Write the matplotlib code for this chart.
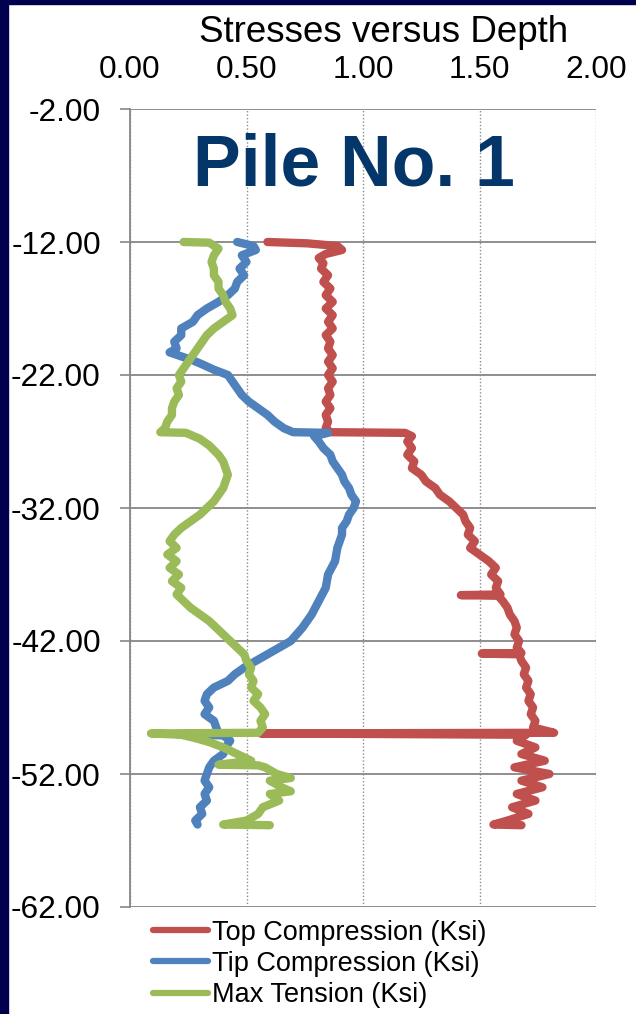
import matplotlib.pyplot as plt
from matplotlib.patches import Rectangle

plt.rcParams['font.family'] = ['Liberation Sans', 'DejaVu Sans']

# Depth (ft) and stress (ksi)
top_depth = [-12.0, -12.1, -12.3, -12.6, -12.9, -13.2, -13.6, -14.0, -14.5, -15.0, -15.5, -16.0, -16.5, -17.0,
             -17.5, -18.0, -18.5, -19.0, -19.5, -20.0, -20.5, -21.0, -21.5, -22.0, -22.5, -23.0, -23.5, -24.0,
             -24.5, -25.0, -25.5, -26.0, -26.3, -26.35, -26.6, -27.0, -27.5, -28.0, -28.5, -29.0, -29.5, -30.0,
             -30.5, -31.0, -31.5, -32.0, -32.5, -33.0, -33.5, -34.0, -34.5, -35.0, -35.5, -36.0, -36.5, -37.0,
             -37.5, -38.0, -38.5, -38.55, -38.6, -39.0, -39.5, -40.0, -40.5, -41.0, -41.5, -42.0, -42.5, -42.9,
             -42.95, -43.0, -43.5, -44.0, -44.5, -45.0, -45.5, -46.0, -46.5, -47.0, -47.5, -48.0, -48.5, -48.9,
             -48.95, -49.05, -49.5, -50.0, -50.5, -51.0, -51.5, -52.0, -52.5, -53.0, -53.5, -54.0, -54.5, -55.0,
             -55.5, -55.8, -55.85]
top_comp = [0.59, 0.76, 0.89, 0.91, 0.84, 0.81, 0.83, 0.82, 0.85, 0.83, 0.86, 0.84, 0.87, 0.84,
            0.87, 0.85, 0.87, 0.84, 0.86, 0.85, 0.87, 0.85, 0.87, 0.85, 0.87, 0.85, 0.86, 0.84,
            0.86, 0.84, 0.85, 0.84, 0.86, 1.18, 1.21, 1.19, 1.21, 1.19, 1.22, 1.21, 1.25, 1.27,
            1.31, 1.33, 1.37, 1.40, 1.43, 1.44, 1.46, 1.45, 1.48, 1.46, 1.50, 1.54, 1.57, 1.55,
            1.58, 1.57, 1.59, 1.42, 1.58, 1.60, 1.62, 1.63, 1.65, 1.66, 1.65, 1.67, 1.66, 1.68,
            1.51, 1.67, 1.68, 1.70, 1.69, 1.71, 1.70, 1.72, 1.71, 1.73, 1.72, 1.74, 1.73, 1.82,
            0.56, 1.70, 1.66, 1.74, 1.68, 1.78, 1.65, 1.80, 1.68, 1.77, 1.66, 1.74, 1.64, 1.71,
            1.62, 1.56, 1.68]

tip_depth = [-12.0, -12.3, -12.6, -13.0, -13.5, -14.0, -14.5, -15.0, -15.5, -16.0, -16.5, -17.0, -17.5, -18.0,
             -18.5, -19.0, -19.5, -20.0, -20.3, -20.6, -20.9, -21.2, -21.6, -22.0, -22.5, -23.0, -23.5, -24.0,
             -24.5, -25.0, -25.5, -26.0, -26.3, -26.35, -26.6, -27.0, -27.5, -28.0, -28.5, -29.0, -29.5, -30.0,
             -30.5, -31.0, -31.5, -32.0, -32.5, -33.0, -33.5, -34.0, -35.0, -36.0, -37.0, -38.0, -39.0, -40.0,
             -41.0, -42.0, -42.5, -43.0, -43.5, -44.0, -44.5, -45.0, -45.5, -46.0, -46.5, -47.0, -47.5, -48.0,
             -48.5, -48.95, -49.0, -49.1, -49.5, -50.0, -50.5, -51.0, -51.5, -52.0, -52.5, -53.0, -53.5, -54.0,
             -54.5, -55.0, -55.5, -55.8]
tip_comp = [0.46, 0.53, 0.54, 0.48, 0.50, 0.47, 0.49, 0.46, 0.45, 0.42, 0.38, 0.33, 0.29, 0.27,
            0.22, 0.22, 0.19, 0.20, 0.17, 0.22, 0.27, 0.31, 0.36, 0.42, 0.44, 0.46, 0.48, 0.51,
            0.55, 0.59, 0.62, 0.66, 0.70, 0.85, 0.79, 0.81, 0.83, 0.86, 0.87, 0.89, 0.91, 0.92,
            0.94, 0.95, 0.97, 0.96, 0.94, 0.93, 0.91, 0.91, 0.89, 0.88, 0.85, 0.84, 0.81, 0.78,
            0.74, 0.69, 0.64, 0.59, 0.54, 0.49, 0.45, 0.42, 0.36, 0.33, 0.32, 0.34, 0.32, 0.36,
            0.37, 0.38, 0.20, 0.40, 0.43, 0.41, 0.40, 0.36, 0.34, 0.33, 0.32, 0.34, 0.32, 0.33,
            0.30, 0.31, 0.28, 0.29]

ten_depth = [-12.0, -12.05, -12.5, -13.0, -13.5, -14.0, -14.5, -15.0, -15.5, -16.0, -16.5, -17.0, -17.5, -18.0,
             -18.5, -19.0, -19.5, -20.0, -20.5, -21.0, -21.5, -22.0, -22.5, -23.0, -23.5, -24.0, -24.5, -25.0,
             -25.5, -26.0, -26.3, -26.35, -26.8, -27.3, -28.0, -28.5, -29.0, -29.5, -30.0, -30.5, -31.0, -31.5,
             -32.0, -32.5, -33.0, -33.5, -34.0, -34.5, -35.0, -35.5, -36.0, -36.5, -37.0, -37.5, -38.0, -38.5,
             -39.0, -39.5, -40.0, -40.5, -41.0, -41.5, -42.0, -42.5, -43.0, -43.5, -44.0, -44.5, -45.0, -45.5,
             -46.0, -46.5, -47.0, -47.5, -48.0, -48.5, -48.9, -48.95, -49.05, -49.3, -49.6, -50.0, -50.5, -51.0,
             -51.3, -51.35, -51.5, -52.0, -52.3, -52.5, -53.0, -53.3, -53.5, -54.0, -54.5, -55.0, -55.5, -55.8,
             -55.85]
max_tension = [0.23, 0.34, 0.38, 0.36, 0.35, 0.36, 0.36, 0.38, 0.38, 0.40, 0.41, 0.43, 0.44, 0.40,
               0.36, 0.33, 0.31, 0.29, 0.27, 0.25, 0.23, 0.21, 0.22, 0.20, 0.21, 0.19, 0.18, 0.18,
               0.16, 0.15, 0.13, 0.24, 0.30, 0.34, 0.38, 0.40, 0.41, 0.42, 0.41, 0.40, 0.38, 0.36,
               0.33, 0.30, 0.26, 0.22, 0.19, 0.17, 0.20, 0.16, 0.20, 0.17, 0.21, 0.18, 0.22, 0.20,
               0.23, 0.26, 0.30, 0.34, 0.37, 0.40, 0.43, 0.46, 0.49, 0.50, 0.52, 0.51, 0.53, 0.52,
               0.55, 0.53, 0.56, 0.58, 0.56, 0.57, 0.55, 0.09, 0.22, 0.28, 0.34, 0.40, 0.46, 0.52,
               0.38, 0.55, 0.58, 0.63, 0.69, 0.60, 0.65, 0.69, 0.60, 0.64, 0.57, 0.55, 0.50, 0.40,
               0.60]

series_names = ['Top Compression (Ksi)', 'Tip Compression (Ksi)', 'Max Tension (Ksi)']
colors = ['#C0504D', '#4F81BD', '#9BBB59']

x_ticks = [0.0, 0.5, 1.0, 1.5, 2.0]
y_ticks = [-62, -52, -42, -32, -22, -12, -2]

fig = plt.figure(figsize=(6.36, 10.14), dpi=100)
fig.patch.set_facecolor('white')
# dark frame on the left and top edges
fig.patches.append(Rectangle((0, 0), 8 / 636, 1, transform=fig.transFigure, color='#00004F', zorder=0))
fig.patches.append(Rectangle((0, 1 - 4 / 1014), 1, 4 / 1014, transform=fig.transFigure, color='#00004F', zorder=0))

ax = fig.add_axes([130 / 636, 1 - 907 / 1014, 466 / 636, 798 / 1014])

ax.plot(top_comp, top_depth, color=colors[0], lw=6, solid_capstyle='round', solid_joinstyle='round',
        label=series_names[0], zorder=3)
ax.plot(tip_comp, tip_depth, color=colors[1], lw=6, solid_capstyle='round', solid_joinstyle='round',
        label=series_names[1], zorder=3)
ax.plot(max_tension, ten_depth, color=colors[2], lw=6, solid_capstyle='round', solid_joinstyle='round',
        label=series_names[2], zorder=4)

ax.set_xlim(0, 2)
ax.set_ylim(-62, -2)
ax.set_xticks(x_ticks)
ax.set_yticks(y_ticks)
ax.set_xticklabels(['%.2f' % v for v in x_ticks])
ax.set_yticklabels(['%.2f' % v for v in y_ticks])

ax.xaxis.tick_top()
ax.tick_params(axis='x', length=0, pad=17, labelsize=22.8)
ax.tick_params(axis='y', length=7, width=1.2, color='#868686', pad=14, labelsize=22.8)

ax.grid(axis='y', color='#868686', lw=1.3, zorder=1)
ax.grid(axis='x', color='#8C8C8C', lw=1.0, ls=(0, (1, 1.5)), zorder=1)
ax.set_axisbelow(True)

for s in ['top', 'right', 'bottom']:
    ax.spines[s].set_visible(False)
ax.spines['left'].set_color('#868686')
ax.spines['left'].set_linewidth(1.3)

fig.text(384 / 636, 1 - 32 / 1014, 'Stresses versus Depth', ha='center', va='center', fontsize=26.5)
ax.text((354 - 130) / 466, 1 - (167 - 109) / 798, 'Pile No. 1', transform=ax.transAxes,
        ha='center', va='center', fontsize=51.5, fontweight='bold', color='#04366A')

handles, labels = ax.get_legend_handles_labels()
leg = fig.legend(handles, labels, loc='upper left', bbox_to_anchor=(139 / 636, 1 - 906 / 1014),
                 frameon=False, fontsize=19.5, handlelength=2.05, handletextpad=0.15, labelspacing=0.2,
                 borderpad=0)
for line in leg.get_lines():
    line.set_linewidth(4.5)

fig.savefig('out.png', dpi=100)
